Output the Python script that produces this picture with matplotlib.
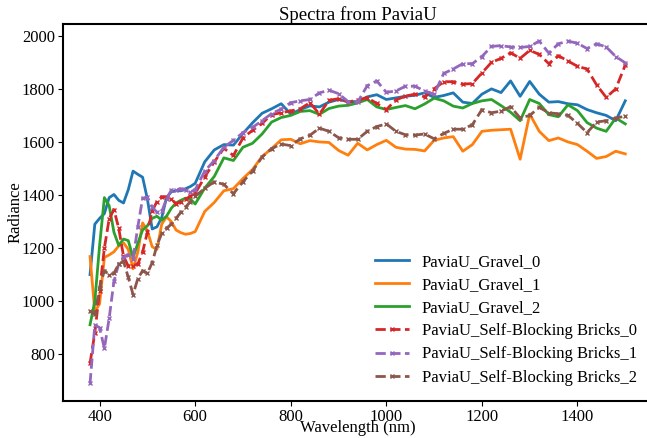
"""Plot sample spectra (Gravel vs Self-Blocking Bricks) from PaviaU."""

import matplotlib

matplotlib.use("Agg")
import matplotlib.pyplot as plt

# wavelengths (nm): 10 nm steps up to 600, then 20 nm steps
wavelengths = [
    380, 390, 400, 410, 420, 430, 440, 450, 460, 470, 480, 490, 500, 510, 520,
    530, 540, 550, 560, 570, 580, 590, 600,
    620, 640, 660, 680, 700, 720, 740, 760, 780, 800, 820, 840, 860, 880, 900,
    920, 940, 960, 980, 1000, 1020, 1040, 1060, 1080, 1100, 1120, 1140, 1160,
    1180, 1200, 1220, 1240, 1260, 1280, 1300, 1320, 1340, 1360, 1380, 1400,
    1420, 1440, 1460, 1480, 1500,
]

gravel_0 = [
    1100, 1290, 1312, 1330, 1390, 1402, 1380, 1370, 1420, 1490, 1478, 1467, 1385,
    1272, 1280, 1315, 1390, 1412, 1416, 1416, 1424, 1432, 1444,
    1525, 1570, 1590, 1588, 1632, 1672, 1708, 1725, 1744, 1705, 1722, 1736, 1732,
    1750, 1760, 1752, 1752, 1770, 1778, 1760, 1766, 1772, 1776, 1785, 1768, 1775,
    1785, 1750, 1745, 1780, 1800, 1786, 1830, 1772, 1828, 1780, 1750, 1752, 1744,
    1740, 1722, 1710, 1700, 1680, 1755,
]
gravel_1 = [
    1168, 960, 990, 1165, 1174, 1186, 1208, 1220, 1195, 1122, 1185, 1295, 1265,
    1205, 1195, 1290, 1318, 1300, 1268, 1258, 1252, 1255, 1262,
    1338, 1372, 1416, 1424, 1462, 1496, 1545, 1575, 1608, 1610, 1593, 1605, 1600,
    1598, 1568, 1550, 1595, 1570, 1590, 1606, 1580, 1573, 1572, 1566, 1606, 1615,
    1620, 1565, 1590, 1640, 1644, 1646, 1648, 1535, 1705, 1640, 1605, 1615, 1600,
    1590, 1565, 1538, 1545, 1565, 1555,
]
gravel_2 = [
    911, 1000, 1210, 1390, 1360, 1260, 1210, 1234, 1228, 1165, 1218, 1268, 1284,
    1312, 1320, 1305, 1320, 1350, 1370, 1380, 1388, 1385, 1366,
    1426, 1470, 1540, 1530, 1580, 1595, 1630, 1675, 1692, 1700, 1715, 1718, 1704,
    1726, 1735, 1738, 1747, 1760, 1732, 1722, 1730, 1737, 1725, 1743, 1765, 1755,
    1735, 1728, 1745, 1755, 1760, 1737, 1712, 1680, 1760, 1745, 1703, 1695, 1740,
    1718, 1673, 1652, 1640, 1690, 1668,
]
bricks_0 = [
    766, 880, 1040, 1200, 1310, 1345, 1275, 1170, 1132, 1134, 1140, 1185, 1260,
    1340, 1375, 1394, 1392, 1385, 1367, 1375, 1384, 1396, 1406,
    1468, 1525, 1576, 1549, 1615, 1644, 1670, 1703, 1710, 1717, 1725, 1748, 1705,
    1757, 1763, 1751, 1757, 1767, 1745, 1722, 1758, 1773, 1780, 1770, 1800, 1827,
    1827, 1818, 1820, 1860, 1900, 1915, 1936, 1915, 1945, 1930, 1895, 1925, 1905,
    1885, 1875, 1815, 1768, 1800, 1890,
]
bricks_1 = [
    690, 910, 900, 822, 935, 1075, 1140, 1165, 1175, 1160, 1280, 1388, 1391,
    1355, 1335, 1338, 1385, 1418, 1420, 1424, 1418, 1412, 1420,
    1490, 1530, 1580, 1606, 1635, 1655, 1680, 1707, 1724, 1748, 1755, 1760, 1785,
    1795, 1782, 1752, 1750, 1812, 1830, 1787, 1792, 1810, 1810, 1792, 1780, 1858,
    1875, 1895, 1895, 1922, 1960, 1963, 1958, 1956, 1960, 1980, 1935, 1970, 1980,
    1972, 1952, 1970, 1958, 1922, 1898,
]
bricks_2 = [
    962, 950, 1050, 1115, 1100, 1105, 1140, 1150, 1090, 1025, 1085, 1115, 1105,
    1145, 1210, 1255, 1275, 1290, 1312, 1335, 1355, 1375, 1395,
    1425, 1450, 1440, 1405, 1450, 1490, 1543, 1575, 1592, 1586, 1612, 1625, 1652,
    1640, 1616, 1610, 1610, 1640, 1658, 1668, 1640, 1627, 1626, 1630, 1612, 1632,
    1648, 1648, 1665, 1722, 1710, 1716, 1733, 1690, 1700, 1730, 1710, 1706, 1700,
    1670, 1635, 1675, 1680, 1690, 1697,
]

gravel_labels = ["PaviaU_Gravel_0", "PaviaU_Gravel_1", "PaviaU_Gravel_2"]
bricks_labels = [
    "PaviaU_Self-Blocking Bricks_0",
    "PaviaU_Self-Blocking Bricks_1",
    "PaviaU_Self-Blocking Bricks_2",
]


def main() -> None:
    plt.rcParams["font.family"] = ["Liberation Serif", "DejaVu Serif"]
    plt.rcParams["font.size"] = 12

    fig = plt.figure(figsize=(6.47, 4.38), dpi=100)
    # right spine sits just past the image edge, as in the original crop
    ax = fig.add_axes([0.0978, 0.0856, 0.910, 0.8596])

    for spectrum, label in zip([gravel_0, gravel_1, gravel_2], gravel_labels):
        ax.plot(wavelengths, spectrum, linewidth=2, label=label)

    for spectrum, label in zip([bricks_0, bricks_1, bricks_2], bricks_labels):
        ax.plot(
            wavelengths,
            spectrum,
            linestyle="--",
            marker="x",
            markersize=3.5,
            linewidth=2,
            label=label,
        )

    ax.set_title("Spectra from PaviaU", fontsize=13.5, pad=1.5)
    ax.set_xlabel("Wavelength (nm)", fontsize=12)
    ax.set_ylabel("Radiance", fontsize=12)
    ax.xaxis.set_label_coords(0.5, -0.052)
    ax.yaxis.set_label_coords(-0.068, 0.5)
    ax.tick_params(labelsize=12, pad=2.5)
    for spine in ax.spines.values():
        spine.set_linewidth(1.5)

    ax.legend(loc="lower right", frameon=False, fontsize=12, labelspacing=0.43)

    fig.savefig("out.png", dpi=100)
    plt.close(fig)


if __name__ == "__main__":
    main()
